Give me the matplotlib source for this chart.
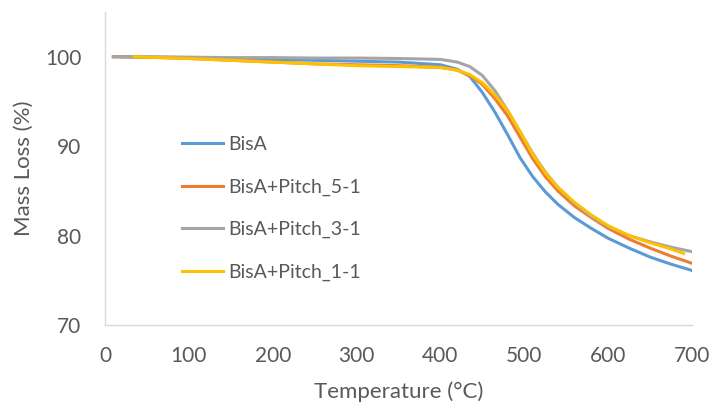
import numpy as np
import matplotlib.pyplot as plt

plt.rcParams['font.family'] = ['Lato', 'DejaVu Sans']

temp = [10, 50, 100, 150, 200, 250, 300, 350, 400, 420, 435, 450, 465, 480,
        495, 510, 525, 540, 560, 580, 600, 625, 650, 675, 700]
temp_yellow = [35, 50, 100, 150, 200, 250, 300, 350, 400, 420, 435, 450, 465, 480,
               495, 510, 525, 540, 560, 580, 600, 625, 650, 675, 690]

bisa = [100.0, 99.95, 99.9, 99.8, 99.7, 99.6, 99.5, 99.4, 99.1, 98.6, 97.8, 96.0, 93.8,
        91.3, 88.7, 86.6, 84.9, 83.5, 82.0, 80.8, 79.7, 78.6, 77.6, 76.8, 76.1]
pitch_5_1 = [100.0, 99.95, 99.8, 99.6, 99.4, 99.2, 99.1, 99.0, 98.8, 98.5, 97.9, 96.9, 95.3,
             93.4, 91.0, 88.6, 86.6, 85.0, 83.3, 82.0, 80.8, 79.6, 78.6, 77.7, 76.9]
pitch_3_1 = [100.0, 100.0, 99.95, 99.9, 99.9, 99.85, 99.85, 99.8, 99.7, 99.4, 98.9, 97.9, 96.2,
             94.0, 91.6, 89.2, 87.1, 85.4, 83.6, 82.1, 81.0, 80.0, 79.3, 78.7, 78.2]
pitch_1_1 = [100.0, 99.95, 99.8, 99.6, 99.4, 99.2, 99.0, 98.9, 98.8, 98.5, 98.0, 97.1, 95.7,
             94.0, 91.6, 89.1, 87.0, 85.4, 83.7, 82.3, 81.1, 80.0, 79.2, 78.5, 78.0]

labels = ['BisA', 'BisA+Pitch_5-1', 'BisA+Pitch_3-1', 'BisA+Pitch_1-1']
colors = ['#5B9BD5', '#ED7D31', '#A5A5A5', '#FFC000']

fig = plt.figure(figsize=(7.12, 4.04), dpi=100)
ax = fig.add_axes([105 / 712, 79 / 404, 587 / 712, 313 / 404])

ax.plot(temp, bisa, color=colors[0], lw=2.2, label=labels[0])
ax.plot(temp, pitch_5_1, color=colors[1], lw=2.2, label=labels[1])
ax.plot(temp, pitch_3_1, color=colors[2], lw=2.2, label=labels[2])
ax.plot(temp_yellow, pitch_1_1, color=colors[3], lw=2.2, label=labels[3])

ax.set_xlim(0, 700)
ax.set_ylim(70, 105)
ax.set_xticks(range(0, 701, 100))
ax.set_yticks([70, 80, 90, 100])
for s in ['top', 'right']:
    ax.spines[s].set_visible(False)
for s in ['left', 'bottom']:
    ax.spines[s].set_color('#D9D9D9')
    ax.spines[s].set_linewidth(1)
ax.tick_params(length=0, labelsize=15, colors='#595959')
ax.tick_params(axis='x', pad=15)
ax.tick_params(axis='y', pad=17)
ax.set_xlabel('Temperature (°C)', fontsize=16, color='#595959', labelpad=11)
ax.set_ylabel('Mass Loss (%)', fontsize=16, color='#595959', labelpad=8)

ax.legend(loc='upper left', bbox_to_anchor=(0.101, 0.66), frameon=False,
          fontsize=14, labelcolor='#595959', handlelength=2.1, handletextpad=0.3,
          labelspacing=1.31)

fig.savefig('out.png', dpi=100)
